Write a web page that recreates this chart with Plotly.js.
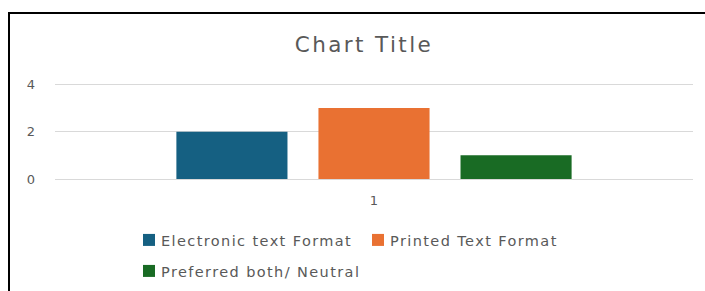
<!DOCTYPE html>
<html>
<head>
<meta charset="utf-8">
<script src="https://cdn.plot.ly/plotly-3.0.1.min.js"></script>
<style>
  html, body { margin: 0; padding: 0; background: #fff; }
  #chart { position: absolute; left: 0; top: 0; width: 705px; height: 291px; }
  #frame { position: absolute; left: 8px; top: 12px; width: 697px; height: 279px;
           border-top: 2px solid #000; border-left: 2px solid #000; box-sizing: border-box;
           pointer-events: none; }
  .legendtext, .legend2text { letter-spacing: 1.4px; }
  #chart .legendtext, #chart .legend2text { transform: translateX(-8px); }
  .gtitle { letter-spacing: 2.4px; }
</style>
</head>
<body>
<div id="chart"></div>
<div id="frame"></div>
<script>
const categories = ["1"];
const seriesNames = ["Electronic text Format", "Printed Text Format", "Preferred both/ Neutral"];
const electronic = [2];
const printed = [3];
const neutral = [1];
const colors = ["#156082", "#E97132", "#196B24"];
const yTicks = [0, 2, 4];
const legendGroups = ["legend", "legend", "legend2"];

const seriesValues = [electronic, printed, neutral];
const traces = seriesValues.map((vals, i) => ({
  type: "bar",
  name: seriesNames[i],
  x: categories,
  y: vals,
  marker: { color: colors[i] },
  legend: legendGroups[i],
  hoverinfo: "none"
}));

const fontFam = "'DejaVu Sans', sans-serif";
const legendFont = { size: 14.5, color: "#595959", family: fontFam };
const legX = 129 / 705;
const layout = {
  width: 705,
  height: 291,
  margin: { l: 55, r: 12, t: 82, b: 112, autoexpand: false },
  paper_bgcolor: "#fff",
  plot_bgcolor: "#fff",
  font: { family: fontFam, color: "#595959" },
  title: {
    text: "Chart Title",
    font: { size: 21.5, color: "#595959", family: fontFam },
    x: 364 / 705, xref: "container", xanchor: "center",
    y: 1 - 44 / 291, yref: "container", yanchor: "middle"
  },
  barmode: "group",
  bargap: 0.332,
  bargroupgap: 0.218,
  xaxis: {
    type: "category",
    tickfont: { size: 13, color: "#595959" },
    showgrid: false,
    showline: false,
    ticks: "",
    ticklabelstandoff: 12,
    fixedrange: true
  },
  yaxis: {
    range: [0, 4.1],
    tickvals: yTicks,
    ticktext: yTicks.map(String),
    tickfont: { size: 13, color: "#595959" },
    gridcolor: "#d9d9d9",
    gridwidth: 1,
    zeroline: true,
    zerolinecolor: "#d9d9d9",
    zerolinewidth: 1,
    showline: false,
    ticks: "",
    ticklabelstandoff: 19,
    fixedrange: true
  },
  showlegend: true,
  legend: {
    orientation: "h",
    xref: "container",
    x: legX,
    xanchor: "left",
    yref: "container",
    y: 1 - 240 / 291,
    yanchor: "middle",
    font: legendFont,
    entrywidth: 184,
    traceorder: "normal"
  },
  legend2: {
    orientation: "h",
    xref: "container",
    x: legX,
    xanchor: "left",
    yref: "container",
    y: 1 - 271 / 291,
    yanchor: "middle",
    font: legendFont,
    traceorder: "normal"
  }
};

Plotly.newPlot("chart", traces, layout, { displayModeBar: false, staticPlot: true });
</script>
</body>
</html>
